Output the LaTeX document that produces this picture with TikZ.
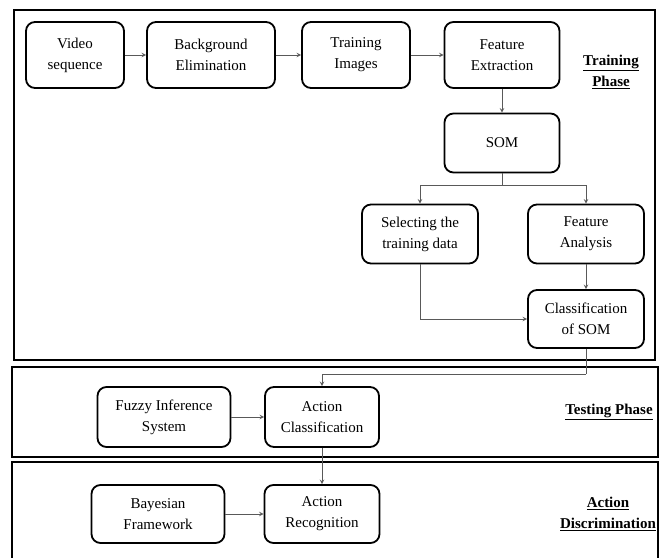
\documentclass[tikz,border=0pt]{standalone}
\usepackage{fontspec}
\setmainfont{Liberation Serif}
\usetikzlibrary{positioning}

\tikzset{
    box/.style={draw, line width=1.8pt, rounded corners=9pt, align=center, inner sep=0pt, font=\fontsize{15}{21}\selectfont},
    frame/.style={draw, line width=2pt},
    link/.style={-stealth, line width=1pt, gray!70!black},
    phase/.style={align=center, font=\fontsize{15}{21}\selectfont\bfseries}
}

\begin{document}
\begin{tikzpicture}[x=1pt,y=-1pt]
    \clip (0,0) rectangle (661,557);
    \fill[white] (0,0) rectangle (661,557);
    \draw[frame] (14,10) rectangle (655,360);
    \draw[frame] (12,367) rectangle (658,457);
    \draw[frame] (12,462) rectangle (658,570);

    \node[box, minimum width=98pt, minimum height=66pt] (vid) at (75,55) {Video\\sequence};
    \node[box, minimum width=128pt, minimum height=66pt] (bg) at (211,55) {Background\\Elimination};
    \node[box, minimum width=108pt, minimum height=66pt] (img) at (356,55) {Training\\Images};
    \node[box, minimum width=115pt, minimum height=66pt] (fe) at (502,55) {Feature\\Extraction};
    \node[box, minimum width=115pt, minimum height=59pt] (som) at (502,143) {SOM};
    \node[box, minimum width=116pt, minimum height=59pt] (sel) at (420,234) {Selecting the\\training data};
    \node[box, minimum width=116pt, minimum height=59pt] (fa) at (586,234) {Feature\\Analysis};
    \node[box, minimum width=116pt, minimum height=58pt] (cls) at (586,319) {Classification\\of SOM};
    \node[phase] (train) at (611,72) {\underline{Training}\\\underline{Phase}};

    \node[box, minimum width=133pt, minimum height=60pt] (fuzzy) at (164,417) {Fuzzy Inference\\System};
    \node[box, minimum width=114pt, minimum height=60pt] (acls) at (322,417) {Action\\Classification};
    \node[phase] (test) at (609,412) {\underline{Testing Phase}};

    \node[box, minimum width=133pt, minimum height=58pt] (bayes) at (158,514) {Bayesian\\Framework};
    \node[box, minimum width=115pt, minimum height=58pt] (arec) at (322,514) {Action\\Recognition};
    \node[phase] (disc) at (608,514) {\underline{Action}\\\underline{Discrimination}};

    \coordinate (split) at (502,185);
    \coordinate (turn) at (586,374);

    \draw[link] (vid) -- (bg);
    \draw[link] (bg) -- (img);
    \draw[link] (img) -- (fe);
    \draw[link] (fe) -- (som);
    \draw[line width=1pt, gray!70!black] (som) -- (split);
    \draw[link] (split) -| (sel);
    \draw[link] (split) -| (fa);
    \draw[link] (sel) |- (cls);
    \draw[link] (fa) -- (cls);
    \draw[line width=1pt, gray!70!black] (cls) -- (turn);
    \draw[link] (turn) -| (acls);
    \draw[link] (fuzzy) -- (acls);
    \draw[link] (acls) -- (arec);
    \draw[link] (bayes) -- (arec);
\end{tikzpicture}
\end{document}
